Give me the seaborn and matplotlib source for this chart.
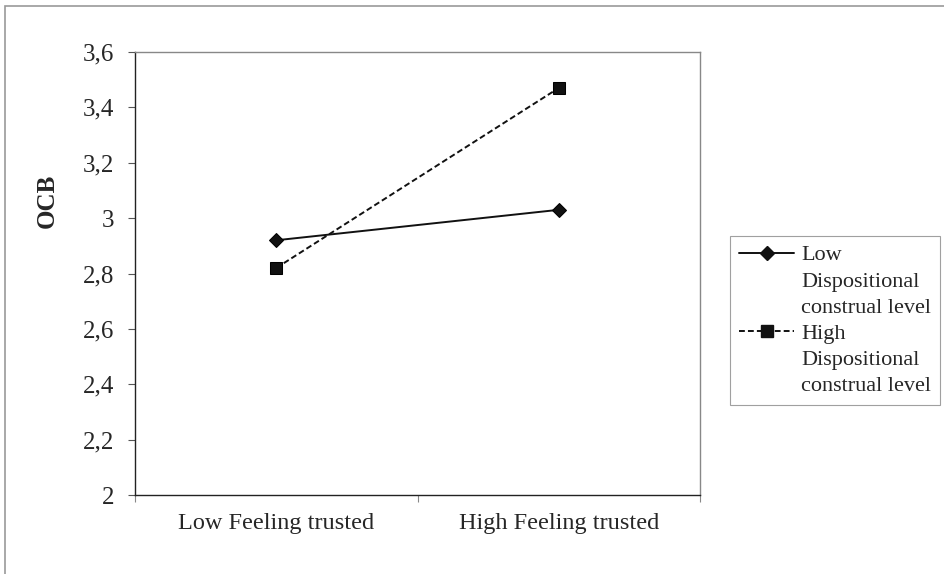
import matplotlib
matplotlib.use("Agg")
import matplotlib.pyplot as plt
import seaborn as sns
import pandas as pd
from matplotlib.patches import Rectangle
from matplotlib.lines import Line2D
from matplotlib.ticker import FuncFormatter

categories = ["Low Feeling trusted", "High Feeling trusted"]
series_names = ["Low Dispositional construal level", "High Dispositional construal level"]
legend_lines = [["Low", "Dispositional", "construal level"],
                ["High", "Dispositional", "construal level"]]
low_dcl = [2.92, 3.03]
high_dcl = [2.82, 3.47]
y_ticks = [2.0, 2.2, 2.4, 2.6, 2.8, 3.0, 3.2, 3.4, 3.6]

rows = []
for i, c in enumerate(categories):
    rows.append({"pos": i, "val": low_dcl[i], "series": series_names[0]})
    rows.append({"pos": i, "val": high_dcl[i], "series": series_names[1]})
df = pd.DataFrame(rows)

sns.set_theme(style="white")
plt.rcParams['font.family'] = ['Liberation Serif', 'DejaVu Serif']

fig = plt.figure(figsize=(9.44, 5.74), dpi=100)
W, H = 944, 574
ax = fig.add_axes([135 / W, 1 - 495 / H, (700 - 135) / W, (495 - 52) / H])

LW = 1.4
sns.lineplot(data=df, x="pos", y="val", hue="series", style="series",
             palette={series_names[0]: "black", series_names[1]: "black"},
             markers={series_names[0]: "D", series_names[1]: "s"},
             dashes={series_names[0]: "", series_names[1]: (3, 1.6)},
             markersize=8.5, linewidth=LW, ax=ax, legend=False)
for line in ax.get_lines():
    if line.get_marker() == "D":
        line.set_markersize(7.5)
    line.set_markeredgecolor("black")
    line.set_color("#111111")

ax.set_xlim(-0.5, 1.5)
ax.set_ylim(2.0, 3.6)
ax.set_yticks(y_ticks)
ax.yaxis.set_major_formatter(FuncFormatter(lambda v, p: (f"{v:.1f}".rstrip("0").rstrip(".")).replace(".", ",")))
ax.set_xticks([0, 1])
ax.set_xticklabels(categories)
ax.set_xticks([-0.5, 0.5, 1.5], minor=True)
ax.tick_params(axis="x", which="major", length=0, pad=13, labelsize=17.5)
ax.tick_params(axis="x", which="minor", length=5, width=0.8, color="#888888", bottom=True)
ax.tick_params(axis="y", which="major", length=5, width=0.8, left=True, labelsize=18, pad=10, color="#555555")
ax.set_xlabel("")
ax.set_ylabel("OCB", fontsize=18, fontweight="bold")
ax.yaxis.set_label_coords((59 - 135) / 565, (495 - 201) / 443)
for s in ax.spines.values():
    s.set_visible(True)
    s.set_color("#222222")
    s.set_linewidth(1.0)
ax.spines["top"].set_color("#888888")
ax.spines["right"].set_color("#888888")

# legend: one row per text line, handle on the first line of each entry
handles = []
labels = []
styles = [dict(marker="D", markersize=7, linestyle="-"),
          dict(marker="s", markersize=8.5, linestyle=(0, (3, 1.6)))]
for st, lines in zip(styles, legend_lines):
    handles.append(Line2D([0], [0], color="#111111", linewidth=LW, **st))
    labels.append(lines[0])
    for extra in lines[1:]:
        handles.append(Line2D([], [], linestyle="none", marker=None))
        labels.append(extra)
leg = fig.legend(handles, labels, loc="upper left",
                 bbox_to_anchor=(730 / W, 1 - 236 / H), bbox_transform=fig.transFigure,
                 frameon=True, fancybox=False, fontsize=16, borderaxespad=0,
                 handlelength=2.5, handletextpad=0.3, labelspacing=0.25,
                 borderpad=0.4)
leg.get_frame().set_edgecolor("#888888")
leg.get_frame().set_linewidth(0.8)

# outer frame
fig.patches.append(Rectangle((5 / W, -0.01), 1.0, 1 - 6 / H + 0.01, transform=fig.transFigure,
                             fill=False, edgecolor="#999999", linewidth=1.2))

fig.savefig("out.png", dpi=100)
